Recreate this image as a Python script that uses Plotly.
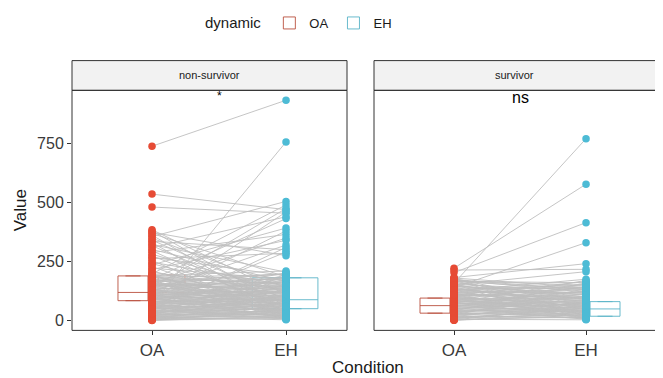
import plotly.graph_objects as go

# ---------------- data ----------------
conditions = ["OA", "EH"]
panels = ["non-survivor", "survivor"]
sig_labels = ["*", "ns"]

# paired values, non-survivor
ns_oa = [739, 536, 481, 385, 380, 374, 369, 362, 356, 349, 341, 336, 330, 322, 317, 309,
         301, 296, 288, 281, 274, 268, 262, 255, 247, 241, 236, 229, 222, 216, 210, 204,
         198, 194, 190, 186, 182, 179, 175, 171, 168, 164, 160, 157, 153, 150, 146, 142,
         139, 135, 131, 128, 124, 121, 117, 114, 110, 107, 104, 100, 97, 94, 90, 87,
         84, 81, 78, 75, 72, 69, 66, 63, 60, 57, 54, 51, 48, 45, 42, 39,
         36, 33, 30, 27, 24, 21, 18, 15, 12, 9, 6, 3, 1,
         195, 188, 183, 176, 172, 166, 161, 156, 151, 148, 144, 138, 133, 129, 126, 122,
         119, 116, 112, 108, 105, 101, 98, 95, 92, 89, 86, 83, 80, 77, 74, 71,
         68, 65, 62, 59, 56, 53, 50, 47, 44, 41, 38, 35, 32, 29, 26, 23,
         20, 17, 14, 11, 8, 5, 2, 0, 190, 170, 150, 130, 110, 90, 70, 50, 30]
ns_eh = [934, 470, 455, 110, 60, 275, 185, 30, 505, 140, 88, 300, 12, 205, 72, 440,
         165, 40, 365, 120, 55, 190, 285, 8, 150, 98, 392, 25, 175, 340, 66, 130,
         490, 20, 210, 80, 155, 45, 432, 115, 5, 198, 62, 350, 135, 35, 180, 92,
         475, 18, 160, 70, 320, 105, 50, 200, 28, 145, 85, 380, 10, 125, 58, 172,
         460, 38, 95, 192, 15, 757, 140, 48, 290, 102, 6, 168, 75, 310, 22, 128,
         52, 185, 90, 12, 150, 42, 110, 3, 65, 30, 82, 14, 48,
         170, 150, 195, 160, 140, 175, 120, 145, 100, 130, 165, 110, 150, 95, 118, 140,
         88, 125, 102, 80, 132, 115, 70, 108, 90, 60, 120, 75, 100, 55, 85, 66,
         92, 40, 78, 58, 30, 70, 46, 88, 35, 62, 20, 50, 72, 40, 25, 60,
         33, 15, 45, 22, 10, 35, 8, 20, 60, 30, 200, 185, 12, 180, 150, 130, 110]

# paired values, survivor
s_oa = [222, 214, 203, 182, 178, 174, 170, 166, 162, 158, 155, 151, 147, 143, 140, 136,
        132, 128, 125, 121, 118, 114, 110, 107, 103, 100, 96, 93, 89, 86, 82, 79,
        75, 72, 68, 65, 61, 58, 54, 51, 47, 44, 40, 37, 33, 30, 26, 23,
        19, 16, 12, 9, 5, 2, 1,
        180, 172, 165, 160, 153, 149, 145, 138, 134, 130, 126, 120, 116, 112, 108, 104,
        99, 95, 91, 87, 84, 80, 77, 73, 70, 66, 63, 60, 56, 53, 49, 46,
        42, 39, 35, 32, 28, 25, 21, 18, 14, 11, 7, 4, 1, 176, 168, 150, 130, 110]
s_eh = [578, 217, 415, 241, 60, 130, 20, 160, 90, 771, 45, 207, 110, 10, 330, 75,
        150, 35, 175, 55, 120, 8, 95, 165, 40, 140, 68, 25, 155, 50, 100, 15,
        170, 62, 125, 30, 85, 145, 5, 72, 115, 38, 160, 58, 18, 105, 44, 135,
        12, 80, 28, 52, 3, 65, 22,
        140, 120, 135, 100, 128, 90, 115, 138, 80, 110, 95, 130, 70, 100, 85, 120,
        60, 90, 75, 110, 48, 66, 95, 40, 80, 55, 100, 35, 70, 45, 88, 25,
        60, 40, 75, 20, 50, 32, 62, 10, 42, 25, 55, 15, 35, 30, 150, 20, 140, 5]

# box statistics: [q1, median, q3]
ns_box_oa = [84, 119, 189]
ns_box_eh = [50, 88, 181]
s_box_oa = [31, 63, 95]
s_box_eh = [18, 49, 80]
ns_dashed_box_oa = [118, 193]   # [lower, upper] of dashed OA box

colors = {"OA": "#E64B35", "EH": "#4DBBD5"}
box_line = {"OA": "rgba(185,80,62,0.9)", "EH": "rgba(90,180,200,0.9)"}

# ---------------- figure ----------------
OFF = 8                     # page body margin
W, H = 663 - OFF, 378 - OFF
fig = go.Figure()

def px_x(p):
    return (p - OFF) / W

def px_y(p):
    return (H - (p - OFF)) / H

panel_defs = [
    dict(xa="x", ya="y", oa=ns_oa, eh=ns_eh,
         boxes=[("OA", ns_box_oa, 0.858, 0.224), ("EH", ns_box_eh, 1.993, 0.49)]),
    dict(xa="x2", ya="y2", oa=s_oa, eh=s_eh,
         boxes=[("OA", s_box_oa, 0.856, 0.227), ("EH", s_box_eh, 2.144, 0.227)]),
]

for pi, pd_ in enumerate(panel_defs):
    for cond, st, pos, wdt in pd_["boxes"]:
        fig.add_trace(go.Box(
            x=[pos], q1=[st[0]], median=[st[1]], q3=[st[2]],
            lowerfence=[st[0]], upperfence=[st[2]],
            width=wdt, boxpoints=False,
            fillcolor="rgba(255,255,255,0)",
            line=dict(color=box_line[cond], width=1),
            name=cond, legendgroup=cond, showlegend=(pi == 0),
            xaxis=pd_["xa"], yaxis=pd_["ya"], hoverinfo="skip",
        ))
    if pi == 0:
        c, w = 1.146, 0.2
        lo, hi = ns_dashed_box_oa
        fig.add_trace(go.Scatter(
            x=[c - w / 2, c + w / 2, c + w / 2, c - w / 2, c - w / 2],
            y=[lo, lo, hi, hi, lo], mode="lines",
            line=dict(color="rgba(200,80,60,0.8)", width=1, dash="dash"),
            showlegend=False, xaxis=pd_["xa"], yaxis=pd_["ya"], hoverinfo="skip",
        ))
    lx, ly = [], []
    for a, b in zip(pd_["oa"], pd_["eh"]):
        lx += [1, 2, None]
        ly += [a, b, None]
    fig.add_trace(go.Scatter(
        x=lx, y=ly, mode="lines", line=dict(color="#BEBEBE", width=0.9),
        showlegend=False, xaxis=pd_["xa"], yaxis=pd_["ya"], hoverinfo="skip",
    ))
    for ci, (cond, vals) in enumerate([("OA", pd_["oa"]), ("EH", pd_["eh"])]):
        fig.add_trace(go.Scatter(
            x=[ci + 1] * len(vals), y=vals, mode="markers",
            marker=dict(color=colors[cond], size=7.5, line=dict(width=0)),
            showlegend=False, xaxis=pd_["xa"], yaxis=pd_["ya"], hoverinfo="skip",
        ))

tickfont = dict(family="Liberation Sans, Arial, sans-serif", size=16, color="#3A3A3A")
ydom = [px_y(330), px_y(88)]
common_x = dict(tickvals=[1, 2], ticktext=conditions, ticks="outside", ticklen=4,
                tickcolor="#333333", tickfont=dict(tickfont, size=17), showgrid=False,
                zeroline=False, showline=False, automargin=False)
fig.update_layout(
    width=W, height=H,
    margin=dict(l=0, r=0, t=0, b=0),
    paper_bgcolor="white", plot_bgcolor="white",
    font=dict(family="Liberation Sans, Arial, sans-serif", color="#1A1A1A"),
    xaxis=dict(common_x, domain=[px_x(72), px_x(347)], range=[0.403, 2.455], anchor="y"),
    xaxis2=dict(common_x, domain=[px_x(374), 1.0], range=[0.394, 2.583], anchor="y2"),
    yaxis=dict(domain=ydom, range=[-42, 976], tickvals=[0, 250, 500, 750],
               ticks="outside", ticklen=4, tickcolor="#333333", tickfont=tickfont,
               showgrid=False, zeroline=False, showline=False, automargin=False,
               anchor="x"),
    yaxis2=dict(domain=ydom, range=[-42, 976], matches="y", showticklabels=False,
                ticks="", showgrid=False, zeroline=False, showline=False, anchor="x2"),
    showlegend=True,
    legend=dict(orientation="h", x=px_x(300), xanchor="center", y=px_y(20), yanchor="middle",
                title=dict(text="dynamic", font=dict(size=15, color="#1A1A1A"), side="left"),
                font=dict(size=13, color="#1A1A1A"), bgcolor="rgba(0,0,0,0)",
                itemwidth=30, tracegroupgap=0),
)

shapes = []
annotations = []
for xa, ya, x0, x1, label, sig in [("x", "y", 72, 347, panels[0], sig_labels[0]),
                                    ("x2", "y2", 374, 663, panels[1], sig_labels[1])]:
    shapes.append(dict(type="rect", xref="paper", yref="paper",
                       x0=px_x(x0), x1=px_x(x1), y0=px_y(88), y1=px_y(58),
                       fillcolor="#F2F2F2", line=dict(color="#333333", width=1), layer="above"))
    shapes.append(dict(type="rect", xref=f"{xa} domain", yref=f"{ya} domain",
                       x0=0, x1=1, y0=0, y1=1, line=dict(color="#333333", width=1),
                       layer="above"))
    cx = (px_x(72) + px_x(347)) / 2 if xa == "x" else (px_x(374) + px_x(655)) / 2
    annotations.append(dict(text=label, xref="paper", yref="paper", x=cx, y=px_y(73),
                            showarrow=False, font=dict(size=11, color="#1A1A1A"),
                            xanchor="center", yanchor="middle"))
    annotations.append(dict(text=sig, xref=xa, yref=ya, x=1.5,
                            y=950 if sig == "*" else 945, showarrow=False,
                            font=dict(size=16 if sig != "*" else 12, color="#000000"),
                            yanchor="middle"))

annotations.append(dict(text="Value", xref="paper", yref="paper", x=px_x(20), y=px_y(209),
                        textangle=-90, showarrow=False, font=dict(size=17, color="#1A1A1A"),
                        xanchor="center", yanchor="middle"))
annotations.append(dict(text="Condition", xref="paper", yref="paper", x=px_x(368), y=px_y(367),
                        showarrow=False, font=dict(size=17, color="#1A1A1A"),
                        xanchor="center", yanchor="middle"))
fig.update_layout(shapes=shapes, annotations=annotations)

fig.write_html("out.html")
